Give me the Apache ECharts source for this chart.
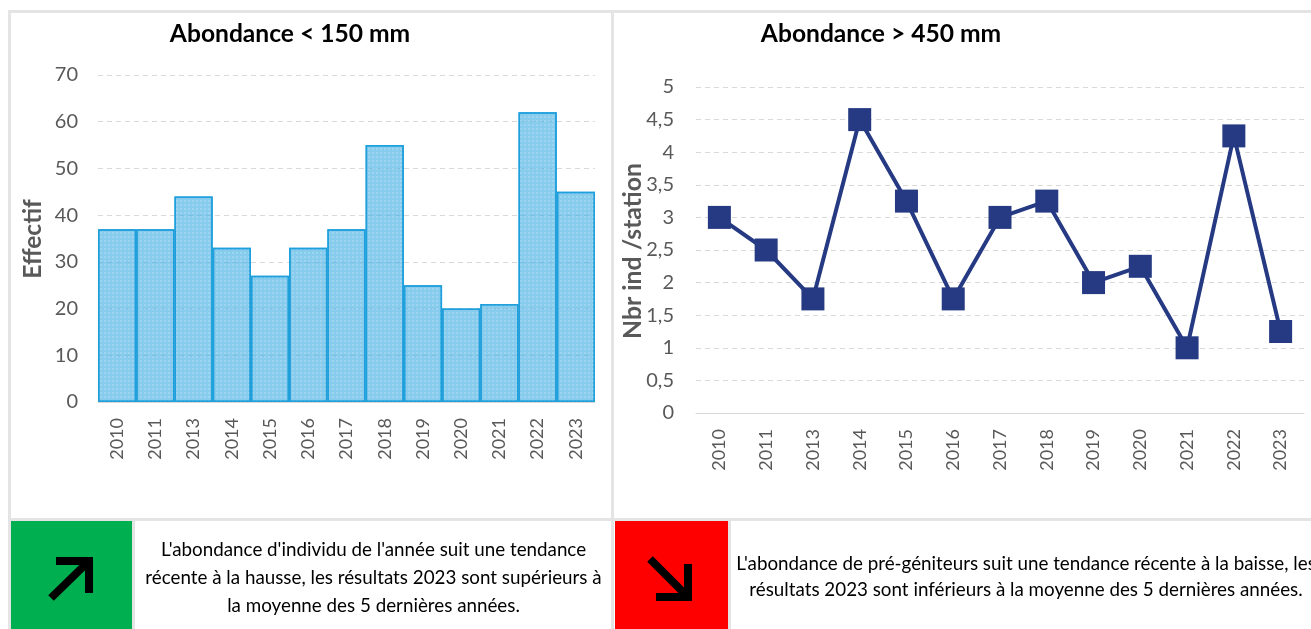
<!DOCTYPE html>
<html>
<head>
<meta charset="utf-8">
<style>
  html, body { margin: 0; padding: 0; background: #fff; }
  #chart { width: 1311px; height: 629px; }
</style>
<script src="https://cdn.jsdelivr.net/npm/echarts@6/dist/echarts.min.js"></script>
</head>
<body>
<div id="chart"></div>
<script>
const years = ['2010', '2011', '2013', '2014', '2015', '2016', '2017', '2018', '2019', '2020', '2021', '2022', '2023'];
const effectif = [37, 37, 44, 33, 27, 33, 37, 55, 25, 20, 21, 62, 45];
const nbrInd = [3, 2.5, 1.75, 4.5, 3.25, 1.75, 3, 3.25, 2, 2.25, 1, 4.25, 1.25];
const noteLeft = ["L'abondance d'individu de l'année suit une tendance", "récente à la hausse, les résultats 2023 sont supérieurs à", "la moyenne des 5 dernières années."];
const noteRight = ["L'abondance de pré-géniteurs suit une tendance récente à la baisse, les", "résultats 2023 sont inférieurs à la moyenne des 5 dernières années."];

const font = 'Lato, "Open Sans", sans-serif';
const gray = '#595959';
const border = '#e4e4e4';

function rect(x, y, width, height, fill) {
  return { type: 'rect', silent: true, z: 0, shape: { x, y, width, height }, style: { fill } };
}
function label(text, x, y, size, weight, fill, rotation) {
  return {
    type: 'text', silent: true, z: 5, x, y, rotation: rotation || 0,
    style: { text, fill, font: `${weight} ${size}px ${font}`, textAlign: 'center', textVerticalAlign: 'middle' }
  };
}
function arrow(points) {
  return {
    type: 'polyline', silent: true, z: 5, shape: { points },
    style: { stroke: '#000', fill: null, lineWidth: 8, lineCap: 'butt', lineJoin: 'miter' }
  };
}

const xAxisCommon = {
  type: 'category',
  data: years,
  axisTick: { show: false },
  axisLine: { lineStyle: { color: '#d9d9d9', width: 1 } },
  axisLabel: { rotate: 90, color: gray, fontFamily: font, fontSize: 18, margin: 16 }
};
const yAxisCommon = {
  type: 'value',
  axisLine: { show: false },
  axisTick: { show: false },
  splitLine: { lineStyle: { color: '#d9d9d9', type: [5, 4], width: 1 } },
  axisLabel: { color: gray, fontFamily: font, fontSize: 20, margin: 20 }
};

const shapes = [
  // cadres
  rect(8, 10, 1303, 3, border),
  rect(8, 10, 3, 619, border),
  rect(611, 10, 3, 619, border),
  rect(8, 518, 1303, 3, border),
  rect(132, 518, 3, 111, border),
  rect(728, 518, 3, 111, border),
  rect(11, 521, 121, 108, '#00b050'),
  rect(615, 521, 113, 108, '#ff0000'),
  // flèches
  arrow([[51, 598], [89, 561]]),
  arrow([[56, 561], [89, 561], [89, 593]]),
  arrow([[650, 559], [688, 597]]),
  arrow([[688, 564], [688, 597], [656, 597]]),
  // titres
  label('Abondance < 150 mm', 290, 34, 24.6, 'bold', '#000'),
  label('Abondance > 450 mm', 881, 34, 24.6, 'bold', '#000'),
  label('Effectif', 33, 239, 24.5, 'bold', gray, Math.PI / 2),
  label('Nbr ind /station', 633, 251, 24.8, 'bold', gray, Math.PI / 2)
];
noteLeft.forEach((t, i) => shapes.push(label(t, 373.5, 550 + i * 28, 18.8, 'normal', '#000')));
noteRight.forEach((t, i) => shapes.push(label(t, 1026, 564 + i * 26, 18.8, 'normal', '#000')));

const myChart = echarts.init(document.getElementById('chart'), null, { renderer: 'canvas' });
myChart.setOption({
  animation: false,
  backgroundColor: '#fff',
  graphic: shapes,
  grid: [
    { left: 98, top: 75, width: 497, height: 327 },
    { left: 696, top: 87, width: 608, height: 326 }
  ],
  xAxis: [
    { ...xAxisCommon, gridIndex: 0 },
    { ...xAxisCommon, gridIndex: 1 }
  ],
  yAxis: [
    { ...yAxisCommon, gridIndex: 0, min: 0, max: 70, interval: 10 },
    {
      ...yAxisCommon, gridIndex: 1, min: 0, max: 5, interval: 0.5,
      axisLabel: { ...yAxisCommon.axisLabel, margin: 22, formatter: v => String(v).replace('.', ',') }
    }
  ],
  series: [
    {
      name: 'Effectif',
      type: 'bar',
      xAxisIndex: 0,
      yAxisIndex: 0,
      barWidth: '100%',
      data: effectif,
      itemStyle: {
        color: 'rgba(72,176,228,0.65)',
        borderColor: '#1f9fdc',
        borderWidth: 1.5,
        decal: { symbol: 'rect', symbolSize: 1, dashArrayX: [2, 2], dashArrayY: [2, 2], color: 'rgba(255,255,255,0.18)' }
      }
    },
    {
      name: 'Nbr ind /station',
      type: 'line',
      xAxisIndex: 1,
      yAxisIndex: 1,
      data: nbrInd,
      symbol: 'rect',
      symbolSize: 23,
      lineStyle: { color: '#253a82', width: 4 },
      itemStyle: { color: '#253a82' }
    }
  ]
});
</script>
</body>
</html>
